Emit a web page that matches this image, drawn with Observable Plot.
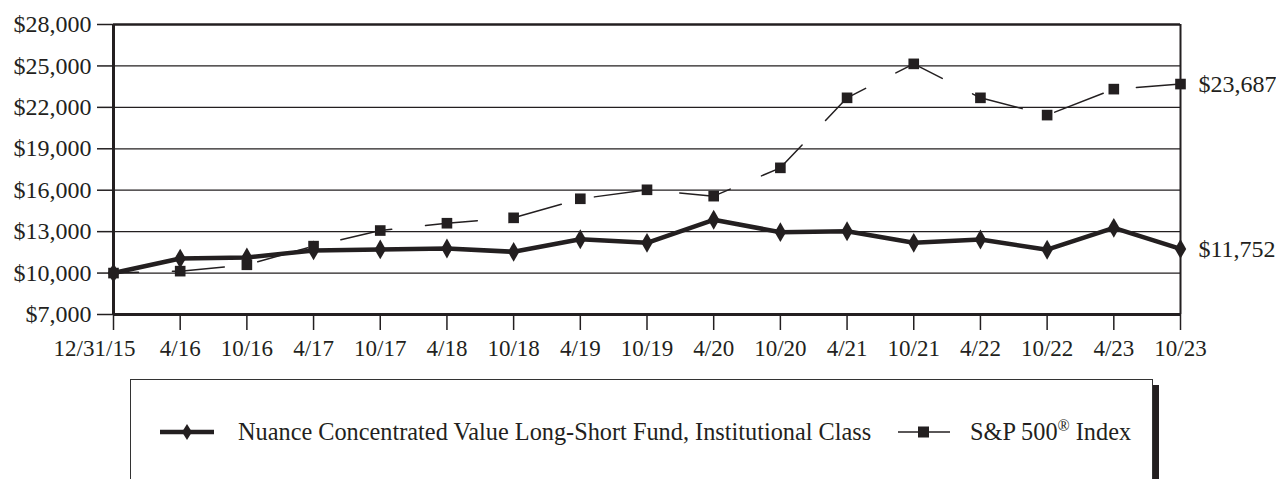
<!DOCTYPE html>
<html>
<head>
<meta charset="utf-8">
<script src="https://cdn.jsdelivr.net/npm/d3@7"></script>
<script src="https://cdn.jsdelivr.net/npm/@observablehq/plot@0.6"></script>
<style>
  body { margin: 0; background: #fff; }
  #wrap { position: relative; width: 1276px; height: 479px; overflow: hidden; font-family: "Liberation Serif", "Times New Roman", serif; color: #231f20; }
  #legend { position: absolute; left: 130px; top: 379px; width: 1023px; height: 140px; border: 1.5px solid #333; box-shadow: 6px 6px 0 #231f20; background: #fff; box-sizing: border-box; }
  .lg { position: absolute; font-size: 24.3px; line-height: 24px; white-space: nowrap; }
  .sym { position: absolute; }
</style>
</head>
<body>
<div id="wrap"></div>
<script>
const dates = ["12/31/15","4/16","10/16","4/17","10/17","4/18","10/18","4/19","10/19","4/20","10/20","4/21","10/21","4/22","10/22","4/23","10/23"];
const fund = [10000,11050,11130,11640,11710,11780,11540,12450,12190,13860,12960,13030,12190,12430,11690,13280,11752];
const sp500 = [10000,10140,10600,11950,13080,13610,14000,15380,16030,15570,17620,22690,25150,22690,21440,23320,23687];
const yTicks = [7000,10000,13000,16000,19000,22000,25000,28000];
const seriesNames = ["Nuance Concentrated Value Long-Short Fund, Institutional Class", "S&P 500® Index"];
const endLabels = ["$11,752", "$23,687"];

const ink = "#231f20";
const fundData = dates.map((d, i) => ({date: d, value: fund[i]}));
const spData = dates.map((d, i) => ({date: d, value: sp500[i]}));
const last = dates.length - 1;
const endData = [
  {date: dates[last], value: fund[last], label: endLabels[0]},
  {date: dates[last], value: sp500[last], label: endLabels[1]}
];
const fmt = v => "$" + d3.format(",")(v);

const chart = Plot.plot({
  width: 1276,
  height: 372,
  marginLeft: 113,
  marginRight: 96,
  marginTop: 24,
  marginBottom: 58,
  style: {fontFamily: "'Liberation Serif', 'Times New Roman', serif", fontSize: "24px", color: ink, background: "#fff"},
  x: {type: "point", domain: dates, padding: 0, round: false, range: [113, 1180]},
  y: {domain: [7000, 28000], range: [314, 24]},
  marks: [
    Plot.ruleY(yTicks.slice(1, -1), {stroke: ink, strokeWidth: 1.2}),
    Plot.ruleY([28000], {stroke: ink, strokeWidth: 2.5}),
    Plot.ruleY([7000], {stroke: ink, strokeWidth: 3}),
    Plot.ruleX([dates[0]], {stroke: ink, strokeWidth: 3}),
    Plot.ruleX([dates[last]], {stroke: ink, strokeWidth: 2}),
    Plot.axisY({ticks: yTicks, tickFormat: fmt, tickSize: 16, tickPadding: 6, fontSize: 24, stroke: ink, strokeWidth: 1.5, label: null}),
    Plot.axisX({ticks: dates, tickFormat: d => d === dates[0] ? "" : d, tickSize: 16, tickPadding: 9, fontSize: 23, stroke: ink, strokeWidth: 1.5, label: null}),
    Plot.axisX({ticks: [dates[0]], tickSize: 0, tickPadding: 25, fontSize: 23, dx: -19, label: null}),
    Plot.line(spData, {x: "date", y: "value", stroke: ink, strokeWidth: 1.5, strokeDasharray: "52,34", strokeDashoffset: 27}),
    Plot.dot(spData, {x: "date", y: "value", symbol: "square", r: 6, fill: ink, stroke: "none"}),
    Plot.line(fundData, {x: "date", y: "value", stroke: ink, strokeWidth: 4.5}),
    Plot.dot(fundData, {x: "date", y: "value", symbol: "diamond", r: 6, fill: ink, stroke: "none"}),
    Plot.text(endData, {x: "date", y: "value", text: "label", textAnchor: "start", dx: 18, fontSize: 24, fill: ink})
  ]
});

const wrap = document.getElementById("wrap");
wrap.appendChild(chart);

const legend = document.createElement("div");
legend.id = "legend";
legend.innerHTML = `
  <svg class="sym" style="left:28px; top:40px" width="56" height="24">
    <line x1="1" y1="12" x2="55" y2="12" stroke="${ink}" stroke-width="4.5"/>
    <path d="M28,4 L33,12 L28,20 L23,12 Z" fill="${ink}"/>
  </svg>
  <span class="lg" style="left:107px; top:40px">${seriesNames[0]}</span>
  <svg class="sym" style="left:766px; top:40px" width="54" height="24">
    <line x1="1" y1="12" x2="53" y2="12" stroke="${ink}" stroke-width="1.5"/>
    <rect x="21" y="6.5" width="11" height="11" fill="${ink}"/>
  </svg>
  <span class="lg" style="left:839px; top:40px">S&amp;P 500<sup style="font-size:16px; line-height:0; vertical-align: 9px;">®</sup> Index</span>
`;
wrap.appendChild(legend);
</script>
</body>
</html>
